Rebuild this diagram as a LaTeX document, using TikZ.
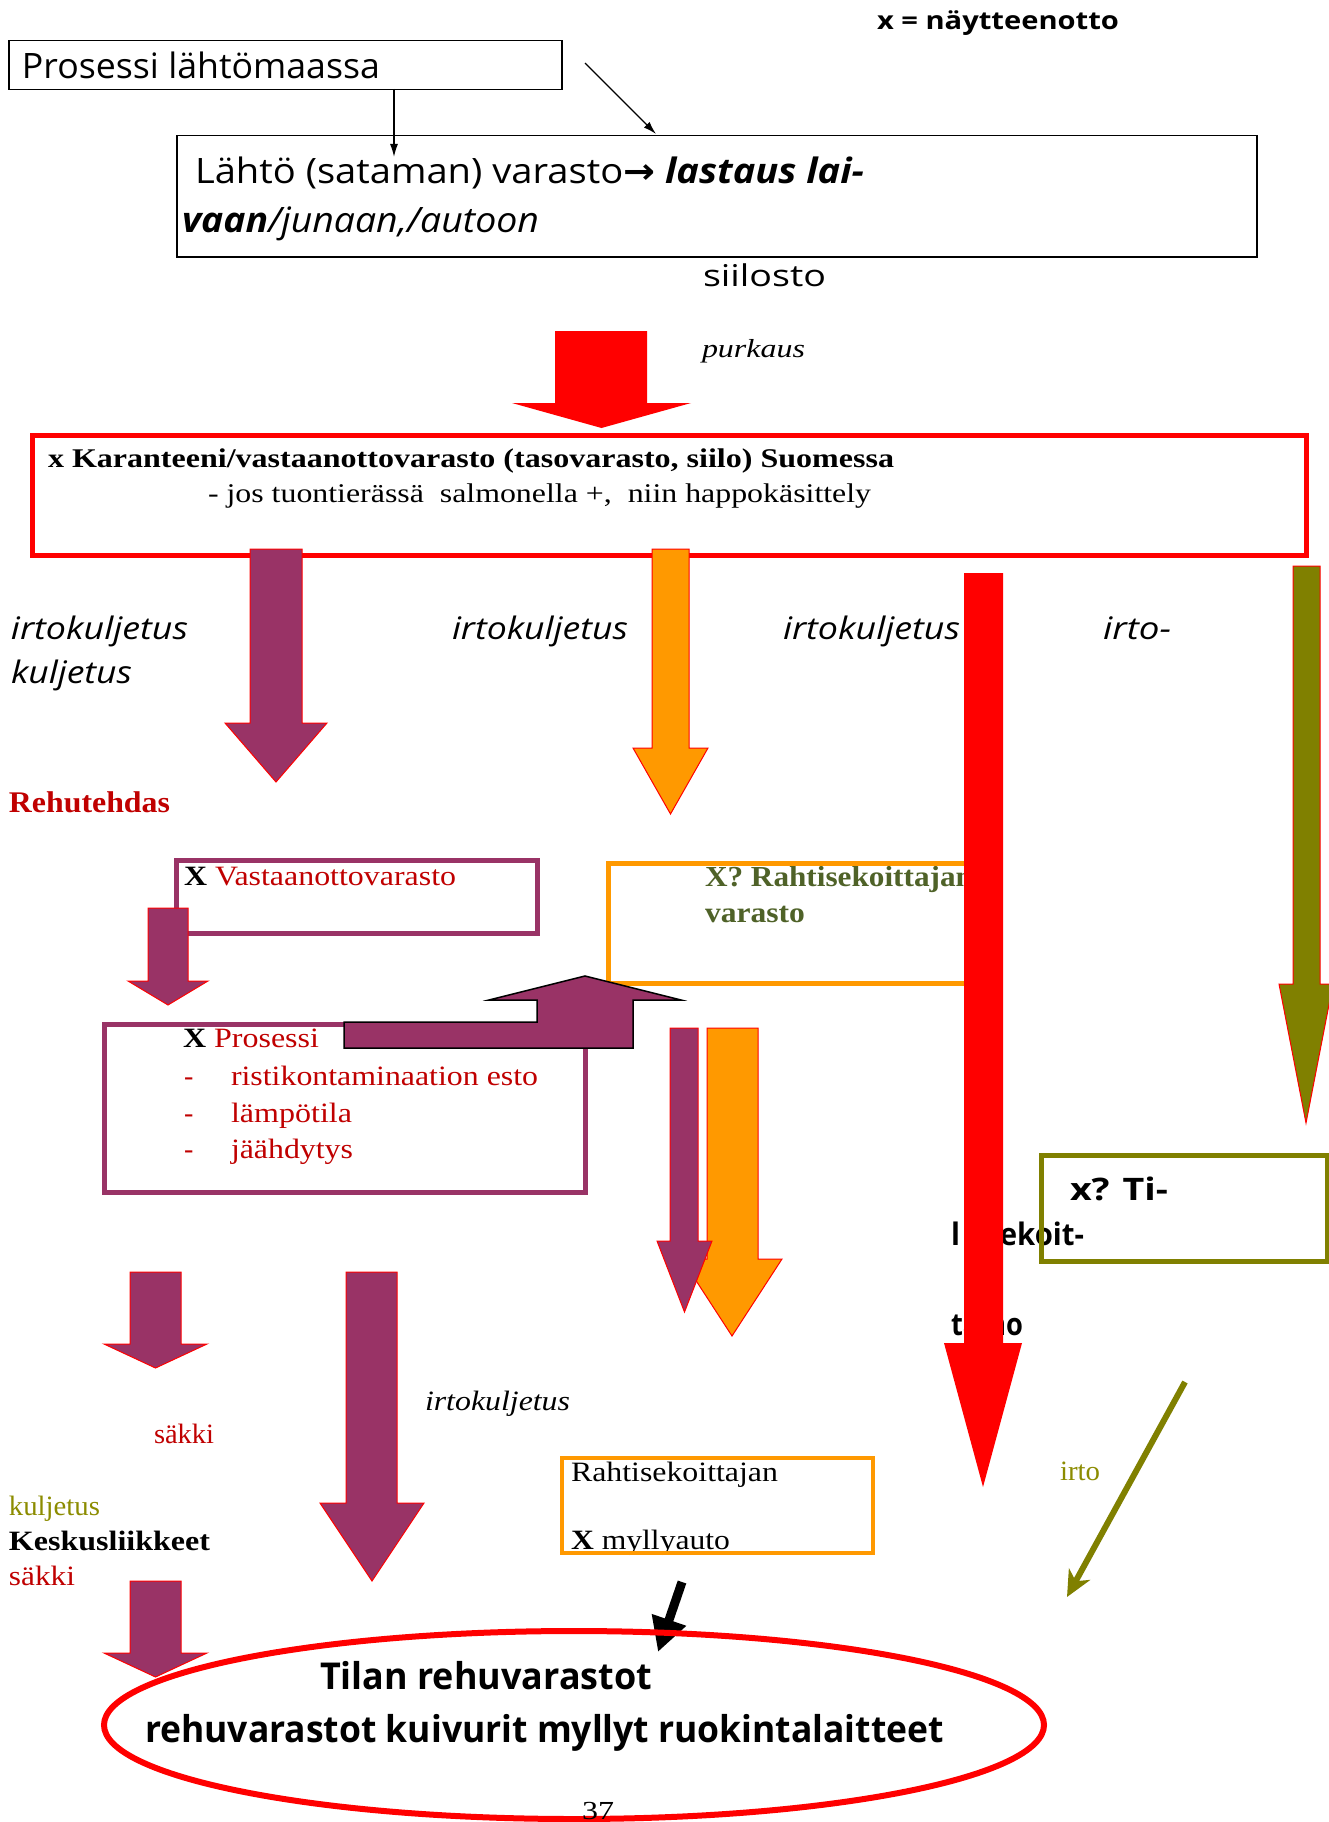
\documentclass[tikz,border=0pt]{standalone}
\usepackage{fontspec}
\usepackage{graphicx}
\setmainfont{Liberation Serif}
\newfontfamily\comic{Open Sans}
\newfontfamily\dejavu{DejaVu Sans}
\usetikzlibrary{arrows.meta}
\definecolor{plum}{HTML}{993366}
\definecolor{orng}{HTML}{FF9900}
\definecolor{olv}{HTML}{808000}
\definecolor{dred}{HTML}{C00000}
\definecolor{dolive}{HTML}{4F6228}
\definecolor{olvtxt}{HTML}{8C8C00}
\newcommand{\tw}[2]{\resizebox{#1pt}{\height}{#2}}
\newcommand{\fs}[1]{\fontsize{#1}{#1}\selectfont}
% down block arrow: style, shaft left, shaft right, top y, head y, head left, head right, tip y
\newcommand{\dnarrow}[8]{\filldraw[#1] (#2,#4) -- (#2,#5) -- (#6,#5) -- ({(#6+#7)/2},#8) -- (#7,#5) -- (#3,#5) -- (#3,#4) -- cycle;}
\tikzset{
  lbl/.style={anchor=base west, inner sep=0pt, outer sep=0pt},
  blackbox/.style={draw=black, line width=1.5pt, anchor=north west, inner sep=0pt},
  thinarrow/.style={draw=black, line width=1.3pt, -{Latex[length=13pt,width=8pt]}},
  plumarr/.style={fill=plum, draw=red, line width=1pt, line join=miter},
  orngarr/.style={fill=orng, draw=red, line width=1pt, line join=miter},
  redarr/.style={fill=red, draw=none},
  olvarr/.style={fill=olv, draw=red, line width=1pt, line join=miter},
  plumbox/.style={draw=plum, line width=5pt},
  orngbox/.style={draw=orng, line width=5pt},
  olvbox/.style={draw=olv, line width=5pt},
  redbox/.style={draw=red, line width=5pt},
}
\begin{document}
\begin{tikzpicture}[x=1pt,y=-1pt]
\useasboundingbox (0,0) rectangle (1329,1822);
\fill[white] (0,0) rectangle (1329,1822);

% ---- top part ----
\node[lbl, font=\comic\bfseries\fs{25}] (xn) at (877,30) {\tw{242}{x = näytteenotto}};
\node[blackbox, minimum width=553pt, minimum height=49pt] (b1) at (8,40) {};
\node[lbl, font=\comic\fs{35}] (t1) at (22,79) {\tw{358}{Prosessi lähtömaassa}};
\node[blackbox, minimum width=1080pt, minimum height=121pt] (b2) at (176,135) {};
\node[lbl, font=\comic\fs{35}] (t2a) at (195,184) {\tw{669}{Lähtö (sataman) varasto{\dejavu\bfseries →} \textbf{\textit{lastaus lai-}}}};
\node[lbl, font=\comic\fs{35}] (t2b) at (182,233) {\tw{357}{\textbf{\textit{vaan}}\textit{/junaan,/autoon}}};
\coordinate (a1s) at (394,89);
\coordinate (a1e) at (394,157);
\draw[thinarrow] (a1s) -- (a1e);
\coordinate (a2s) at (585,63);
\coordinate (a2e) at (656,134);
\draw[thinarrow] (a2s) -- (a2e);
\node[lbl, font=\comic\fs{30}] (silo) at (703,286) {\tw{123}{siilosto}};
\node[lbl, font=\itshape\fs{26}] (purk) at (702,357) {\tw{103}{purkaus}};
\dnarrow{redarr}{555}{647}{331}{403}{512}{691}{428}

% ---- quarantine box ----
\draw[redbox] (32,435) rectangle (1306,555);
\node[lbl, font=\bfseries\fs{27}] (kar1) at (48,467) {\tw{846}{x Karanteeni/vastaanottovarasto (tasovarasto, siilo) Suomessa}};
\node[lbl, font=\fs{27}] (kar2) at (208,502) {\tw{663}{- jos tuontierässä\ \ salmonella +,\ \ niin happokäsittely}};

\dnarrow{plumarr}{250}{302}{549}{723}{225}{327}{782}
\dnarrow{orngarr}{652}{689}{549}{748}{633}{708}{814}
\dnarrow{olvarr}{1293}{1320}{566}{984}{1279}{1333}{1123}

\node[lbl, font=\comic\itshape\fs{31}] (ik1) at (11,639) {\tw{177}{irtokuljetus}};
\node[lbl, font=\comic\itshape\fs{31}] (ik1b) at (11,683) {\tw{121}{kuljetus}};
\node[lbl, font=\comic\itshape\fs{31}] (ik2) at (452,639) {\tw{176}{irtokuljetus}};
\node[lbl, font=\comic\itshape\fs{31}] (ik3) at (783,639) {\tw{177}{irtokuljetus}};
\node[lbl, font=\comic\itshape\fs{31}] (ik4) at (1103,639) {\tw{68}{irto-}};

\node[lbl, font=\bfseries\fs{30}, text=dred] (rehu) at (9,812) {\tw{161}{Rehutehdas}};

% ---- feed factory ----
\draw[plumbox] (176,860) rectangle (537,933);
\node[lbl, font=\fs{28}] (vast) at (184,885) {\tw{272}{\textbf{X} \textcolor{dred}{Vastaanottovarasto}}};
\dnarrow{plumarr}{148}{188}{908}{981}{128}{208}{1005}

\node[lbl, font=\bfseries\fs{29}, text=dolive] (rs1) at (705,886) {\tw{268}{X? Rahtisekoittajan}};
\node[lbl, font=\bfseries\fs{29}, text=dolive] (rs2) at (705,922) {\tw{100}{varasto}};
\draw[orngbox] (608,863) rectangle (970,983);

\draw[plumbox] (104,1024) rectangle (585,1192);
\node[lbl, font=\fs{28}] (pros) at (183,1047) {\tw{136}{\textbf{X} \textcolor{dred}{Prosessi}}};
\node[lbl, font=\fs{28}, text=dred] (d1) at (184,1085) {-};
\node[lbl, font=\fs{28}, text=dred] (d2) at (184,1122) {-};
\node[lbl, font=\fs{28}, text=dred] (d3) at (184,1158) {-};
\node[lbl, font=\fs{28}, text=dred] (i1) at (231,1085) {\tw{307}{ristikontaminaation esto}};
\node[lbl, font=\fs{28}, text=dred] (i2) at (231,1122) {\tw{121}{lämpötila}};
\node[lbl, font=\fs{28}, text=dred] (i3) at (231,1158) {\tw{122}{jäähdytys}};

\filldraw[fill=plum, draw=black, line width=1.5pt, line join=miter]
  (344,1022) -- (537,1022) -- (537,1000) -- (489,1000) -- (585,976) -- (681,1000)
  -- (633,1000) -- (633,1048) -- (344,1048) -- cycle;

\dnarrow{orngarr}{707}{758}{1028}{1259}{682}{782}{1336}
\dnarrow{plumarr}{670}{698}{1028}{1241}{657}{712}{1312}

% ---- farm mixing ----
\node[lbl, font=\comic\bfseries\fs{31}] (ti1) at (1070,1200) {\tw{98}{x? Ti-}};
\node[lbl, font=\comic\bfseries\fs{31}] (ti2) at (951,1245) {\tw{133}{l\kern8pt asekoit-}};
\node[lbl, font=\comic\bfseries\fs{31}] (ti3) at (951,1335) {\tw{72}{tamo}};
\draw[olvbox] (1041,1155) rectangle (1327,1261);

\dnarrow{redarr}{964}{1003}{573}{1343}{944}{1022}{1487}

% ---- lower part ----
\dnarrow{plumarr}{130}{181}{1272}{1344}{104}{207}{1368}
\dnarrow{plumarr}{346}{397}{1272}{1503}{320}{424}{1581}
\node[lbl, font=\itshape\fs{28}] (ik5) at (425,1410) {\tw{145}{irtokuljetus}};
\node[lbl, font=\fs{28}, text=dred] (sak1) at (154,1443) {\tw{60}{säkki}};
\node[lbl, font=\fs{28}, text=olvtxt] (kul) at (9,1515) {\tw{91}{kuljetus}};
\node[lbl, font=\bfseries\fs{28}] (kesk) at (9,1550) {\tw{201}{Keskusliikkeet}};
\node[lbl, font=\fs{28}, text=dred] (sak2) at (9,1585) {\tw{66}{säkki}};
\dnarrow{plumarr}{130}{181}{1581}{1653}{104}{207}{1677}

\node[lbl, font=\fs{28}] (rm1) at (571,1481) {\tw{207}{Rahtisekoittajan}};
\node[lbl, font=\fs{28}] (rm2) at (571,1549) {\tw{159}{\textbf{X} myllyauto}};
\draw[orngbox, line width=4.5pt] (562,1458) rectangle (873,1553);

\node[lbl, font=\fs{28}, text=olvtxt] (irto) at (1060,1480) {\tw{40}{irto}};
\coordinate (o1s) at (1185,1382);
\coordinate (o1e) at (1067,1597);
\draw[draw=olv, line width=6pt, -{Stealth[length=26pt,width=24pt,inset=8pt]}] (o1s) -- (o1e);

\coordinate (k1s) at (682,1582);
\coordinate (k1e) at (658,1652);
\draw[draw=black, line width=9pt, -{Triangle[length=34pt,width=34pt]}] (k1s) -- (k1e);

% ---- farm ellipse ----
\draw[draw=red, line width=6pt] (574,1725) ellipse [x radius=470, y radius=94];
\node[lbl, font=\comic\bfseries\fs{37}] (til1) at (320,1689) {\tw{332}{Tilan rehuvarastot}};
\node[lbl, font=\comic\bfseries\fs{37}] (til2) at (145,1742) {\tw{799}{rehuvarastot kuivurit myllyt ruokintalaitteet}};
\node[lbl, font=\fs{26}] (pg) at (582,1819) {\tw{32}{37}};
\end{tikzpicture}
\end{document}
